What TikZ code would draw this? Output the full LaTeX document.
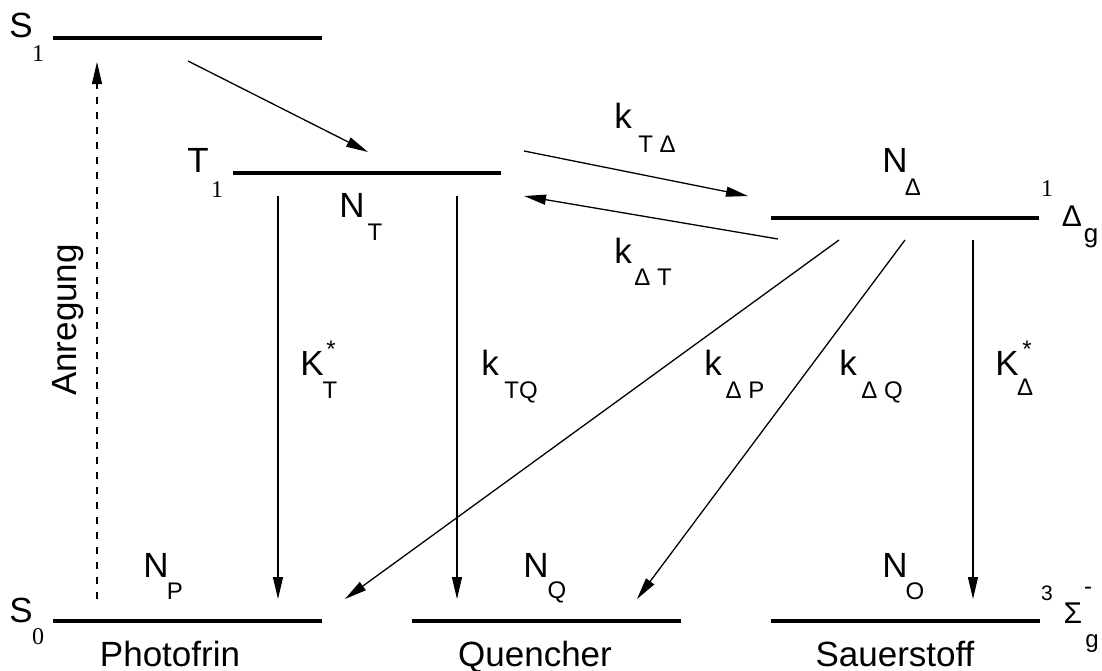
\documentclass[tikz,border=0pt]{standalone}
\usepackage{fontspec}
\setmainfont{Liberation Sans}
\newfontfamily\SerFam{Liberation Serif}
\usetikzlibrary{arrows.meta}
\newcommand\FBig{\fontsize{35}{40}\selectfont}
\newcommand\FSub{\fontsize{24}{28}\selectfont}
\newcommand\FSer{\SerFam\fontsize{24}{28}\selectfont}
\newcommand\FGr{\fontsize{30}{34}\selectfont}
\newcommand\FSup{\fontsize{21}{25}\selectfont}
\tikzset{
  level/.style={line width=4pt},
  arr/.style={line width=1.3pt,-{Triangle[length=22pt,width=10pt]}},
  dasharr/.style={arr, dash pattern=on 7pt off 8pt},
  lab/.style={inner sep=0pt, anchor=base, font=\FBig},
  sub/.style={inner sep=0pt, anchor=base, font=\FSub},
  ser/.style={inner sep=0pt, anchor=base, font=\FSer},
  gr/.style={inner sep=0pt, anchor=base, font=\FGr},
  sup/.style={inner sep=0pt, anchor=base, font=\FSup},
  bottomname/.style={lab, text depth=0pt},
}
\begin{document}
\begin{tikzpicture}[x=1pt,y=-1pt]
\useasboundingbox (0,0) rectangle (1102,670);
% level end points
\coordinate (s1l) at (53,38);   \coordinate (s1r) at (322,38);
\coordinate (t1l) at (233,173); \coordinate (t1r) at (501,173);
\coordinate (dl) at (771,218);  \coordinate (dr) at (1039,218);
\coordinate (pl) at (53,621);   \coordinate (pr) at (322,621);
\coordinate (ql) at (412,621);  \coordinate (qr) at (681,621);
\coordinate (ol) at (771,621);  \coordinate (or) at (1040,621);
% levels
\draw[level] (s1l) -- (s1r);
\draw[level] (t1l) -- (t1r);
\draw[level] (dl) -- (dr);
\draw[level] (pl) -- (pr);
\draw[level] (ql) -- (qr);
\draw[level] (ol) -- (or);
% arrow end points
\coordinate (exA) at (97,599);  \coordinate (exB) at (97,62);
\coordinate (iscA) at (188,61); \coordinate (iscB) at (368,152);
\coordinate (tdA) at (524,151); \coordinate (tdB) at (748,196);
\coordinate (dtA) at (778,239); \coordinate (dtB) at (524,196);
\coordinate (tpA) at (278,196); \coordinate (tpB) at (278,599);
\coordinate (tqA) at (457,196); \coordinate (tqB) at (457,599);
\coordinate (dpA) at (839,240); \coordinate (dpB) at (345,599);
\coordinate (dqA) at (905,240); \coordinate (dqB) at (637,599);
\coordinate (doA) at (973,240); \coordinate (doB) at (973,599);
% arrows
\draw[dasharr] (exA) -- (exB);
\draw[arr] (iscA) -- (iscB);
\draw[arr] (tdA) -- (tdB);
\draw[arr] (dtA) -- (dtB);
\draw[arr] (tpA) -- (tpB);
\draw[arr] (tqA) -- (tqB);
\draw[arr] (dpA) -- (dpB);
\draw[arr] (dqA) -- (dqB);
\draw[arr] (doA) -- (doB);
% labels: S1
\node[lab] (S1S) at (21,37) {S};
\node[ser] (S1i) at (38,61) {1};
% T1
\node[lab] (T1T) at (198,172) {T};
\node[ser] (T1i) at (217,197) {1};
% N_T
\node[lab] (NTN) at (352,217) {N};
\node[sub] (NTs) at (375,240) {T};
% k_TD
\node[lab] (kTDk) at (623,128) {k};
\node[sub] (kTDs) at (657,152) {T Δ};
% k_DT
\node[lab] (kDTk) at (623,263) {k};
\node[sub] (kDTs) at (653,285) {Δ T};
% N_Delta
\node[lab] (NDN) at (895,172) {N};
\node[sub] (NDs) at (913,195) {Δ};
% 1Delta_g
\node[ser] (Dg1) at (1047,196) {1};
\node[gr] (DgD) at (1072,226) {Δ};
\node[sub, font=\fontsize{26}{30}\selectfont] (Dgg) at (1091,242) {g};
% rate labels
\node[lab] (KTk) at (312,375) {K};
\node[sub] (KTst) at (331,357) {*};
\node[sub] (KTs) at (330,398) {T};
\node[lab] (kTQk) at (490,375) {k};
\node[sub] (kTQs) at (521,398) {TQ};
\node[lab] (kDPk) at (713,375) {k};
\node[sub] (kDPs) at (745,398) {Δ P};
\node[lab] (kDQk) at (848,375) {k};
\node[sub] (kDQs) at (882,398) {Δ Q};
\node[lab] (KDk) at (1007,375) {K};
\node[sub] (KDst) at (1027,357) {*};
\node[sub] (KDs) at (1025,395) {Δ};
% Anregung
\node[lab, rotate=90] (anr) at (76,320) {Anregung};
% bottom
\node[lab] (NPN) at (156,577) {N};
\node[sub] (NPs) at (175,599) {P};
\node[lab] (S0S) at (21,622) {S};
\node[ser] (S0i) at (38,644) {0};
\node[bottomname] (phot) at (170,666) {Photofrin};
\node[lab] (NQN) at (536,577) {N};
\node[sub] (NQs) at (557,598) {Q};
\node[bottomname] (quen) at (535,666) {Quencher};
\node[lab] (NON) at (895,577) {N};
\node[sub] (NOs) at (915,599) {O};
\node[bottomname] (saue) at (895,666) {Sauerstoff};
% 3Sigma_g^-
\node[sup] (Sg3) at (1047,600) {3};
\node[gr] (SgS) at (1073,623) {Σ};
\node[sub] (Sgm) at (1088,594) {-};
\node[sub] (Sgg) at (1092,647) {g};
\end{tikzpicture}
\end{document}
